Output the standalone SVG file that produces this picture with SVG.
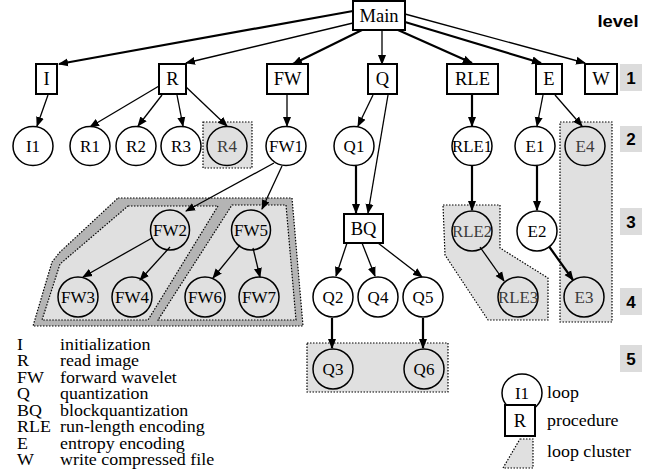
<svg xmlns="http://www.w3.org/2000/svg" width="655" height="475" viewBox="0 0 655 475">
<style>
.bg{fill:#ffffff}
.box{fill:#ffffff;stroke:#000;stroke-width:2}
.loop{fill:#ffffff;stroke:#000;stroke-width:1.5}
.cl{fill:none;stroke:#000;stroke-width:1.5}
.t{font-family:"Liberation Serif","Times New Roman",serif;font-size:18.5px;fill:#000;text-anchor:middle;dominant-baseline:central}
.tc{font-family:"Liberation Serif","Times New Roman",serif;font-size:17px;fill:#000;text-anchor:middle;dominant-baseline:central}
.tg{fill:#3a3a3a}
.lg{font-family:"Liberation Serif","Times New Roman",serif;font-size:16px;fill:#000}
.lvl{font-family:"Liberation Sans",Arial,sans-serif;font-size:17px;font-weight:bold;fill:#000;text-anchor:middle}
.lvbox{fill:#dcdcdc}
.clu{fill:#e0e0e0;stroke:#000;stroke-width:1.2;stroke-dasharray:1.5 1.5}
.band{fill:#b4b4b4;stroke:#000;stroke-width:1.2;stroke-dasharray:1.5 1.5}
.e{stroke:#000;stroke-width:1.3;fill:none;marker-end:url(#ah)}
.E{stroke:#000;stroke-width:2.2;fill:none;marker-end:url(#ah)}
</style>
<defs>
<marker id="ah" markerUnits="userSpaceOnUse" markerWidth="10" markerHeight="10" viewBox="0 0 10 10" refX="9" refY="5" orient="auto">
<path d="M0,1 L10,5 L0,9 z" fill="#000"/>
</marker>
</defs>
<rect class="bg" x="0" y="0" width="655" height="475"/>

<!-- clusters -->
<g id="clusters">
<polygon class="band" points="118,198 292,198 303,326 33,326 52,262 60,252"/>
<polygon class="clu" points="128,206 218,206 148,320 42,320 60,264"/>
<polygon class="clu" points="232,205 286,205 296,320 158,320"/>
<rect class="clu" x="203" y="122" width="49" height="46"/>
<rect class="clu" x="560" y="122" width="52" height="200"/>
<polygon class="clu" points="443,205 500,205 500,248 548,278 548,320 488,320 445,255"/>
<rect class="clu" x="307" y="343" width="141" height="49"/>
</g>

<!-- level labels -->
<g id="levels">
<text class="lvl" x="618" y="27" textLength="41" lengthAdjust="spacingAndGlyphs">level</text>
<rect class="lvbox" x="620" y="64" width="22" height="27"/>
<text class="lvl" x="631" y="84">1</text>
<rect class="lvbox" x="620" y="126" width="22" height="26"/>
<text class="lvl" x="631" y="145">2</text>
<rect class="lvbox" x="620" y="208" width="22" height="27"/>
<text class="lvl" x="631" y="228">3</text>
<rect class="lvbox" x="620" y="288" width="22" height="27"/>
<text class="lvl" x="631" y="308">4</text>
<rect class="lvbox" x="620" y="345" width="22" height="27"/>
<text class="lvl" x="631" y="365">5</text>
</g>

<!-- connectors -->
<g id="connectors">
<line class="E" x1="353" y1="11" x2="59" y2="64"/>
<line class="e" x1="353" y1="23" x2="186" y2="63"/>
<line class="E" x1="362" y1="30" x2="293" y2="64"/>
<line class="e" x1="382" y1="30" x2="382" y2="64"/>
<line class="E" x1="398" y1="30" x2="472" y2="63"/>
<line class="E" x1="405" y1="22" x2="541" y2="63"/>
<line class="e" x1="405" y1="14" x2="585" y2="63"/>

<line class="e" x1="48" y1="95" x2="37" y2="126"/>
<line class="e" x1="159" y1="86" x2="90" y2="127"/>
<line class="e" x1="162" y1="95" x2="138" y2="126"/>
<line class="e" x1="177" y1="95" x2="183" y2="126"/>
<line class="e" x1="185" y1="86" x2="227" y2="126"/>
<line class="e" x1="287" y1="95" x2="287" y2="126"/>
<line class="e" x1="373" y1="95" x2="358" y2="126"/>
<line class="e" x1="388" y1="95" x2="368" y2="213"/>
<line class="E" x1="472" y1="95" x2="472" y2="126"/>
<line class="e" x1="543" y1="95" x2="537" y2="126"/>
<line class="e" x1="555" y1="95" x2="582" y2="126"/>

<line class="e" x1="274" y1="163" x2="186" y2="211"/>
<line class="e" x1="282" y1="166" x2="262" y2="209"/>
<line class="e" x1="152" y1="238" x2="83" y2="277"/>
<line class="e" x1="170" y1="247" x2="140" y2="280"/>
<line class="e" x1="240" y1="245" x2="213" y2="278"/>
<line class="e" x1="253" y1="248" x2="260" y2="277"/>

<line class="E" x1="356" y1="166" x2="356" y2="213"/>
<line class="E" x1="472" y1="166" x2="472" y2="210"/>
<line class="e" x1="480" y1="247" x2="504" y2="281"/>
<line class="E" x1="537" y1="166" x2="537" y2="210"/>
<line class="E" x1="548" y1="245" x2="573" y2="280"/>

<line class="e" x1="347" y1="243" x2="336" y2="276"/>
<line class="e" x1="362" y1="243" x2="375" y2="276"/>
<line class="e" x1="378" y1="243" x2="422" y2="277"/>
<line class="E" x1="332" y1="318" x2="332" y2="348"/>
<line class="E" x1="423" y1="318" x2="423" y2="348"/>
</g>

<!-- procedures -->
<g id="Main"><rect class="box" x="353" y="1" width="52" height="29"/><text class="t" x="379" y="16">Main</text></g>
<g id="I"><rect class="box" x="36" y="64" width="21" height="30"/><text class="t" x="46.5" y="79">I</text></g>
<g id="R"><rect class="box" x="159" y="64" width="27" height="30"/><text class="t" x="172.5" y="79">R</text></g>
<g id="FW"><rect class="box" x="267" y="64" width="41" height="30"/><text class="t" x="287.5" y="79">FW</text></g>
<g id="Q"><rect class="box" x="368" y="64" width="29" height="30"/><text class="t" x="382.5" y="79">Q</text></g>
<g id="RLE"><rect class="box" x="447" y="64" width="51" height="30"/><text class="t" x="472.5" y="79">RLE</text></g>
<g id="E"><rect class="box" x="536" y="64" width="26" height="30"/><text class="t" x="549" y="79">E</text></g>
<g id="W"><rect class="box" x="585" y="64" width="32" height="30"/><text class="t" x="601" y="79">W</text></g>
<g id="BQ"><rect class="box" x="344" y="214" width="39" height="29"/><text class="t" x="363.5" y="228.5">BQ</text></g>

<!-- loops -->
<g id="I1"><ellipse class="loop" cx="33" cy="146" rx="20" ry="19.5"/><text class="tc" x="33" y="146">I1</text></g>
<g id="R1"><ellipse class="loop" cx="90" cy="146" rx="20" ry="19.5"/><text class="tc" x="90" y="146">R1</text></g>
<g id="R2"><ellipse class="loop" cx="136" cy="146" rx="20" ry="19.5"/><text class="tc" x="136" y="146">R2</text></g>
<g id="R3"><ellipse class="loop" cx="181" cy="146" rx="20" ry="19.5"/><text class="tc" x="181" y="146">R3</text></g>
<g id="R4"><ellipse class="cl" cx="227" cy="146" rx="20" ry="19.5"/><text class="tc tg" x="227" y="146">R4</text></g>
<g id="FW1"><ellipse class="loop" cx="286" cy="146" rx="20" ry="19.5"/><text class="tc" x="286" y="146">FW1</text></g>
<g id="Q1"><ellipse class="loop" cx="354" cy="146" rx="20" ry="19.5"/><text class="tc" x="354" y="146">Q1</text></g>
<g id="RLE1"><ellipse class="loop" cx="472" cy="146" rx="20" ry="19.5"/><text class="tc" x="472" y="146" textLength="40" lengthAdjust="spacingAndGlyphs">RLE1</text></g>
<g id="E1"><ellipse class="loop" cx="535" cy="146" rx="20" ry="19.5"/><text class="tc" x="535" y="146">E1</text></g>
<g id="E4"><ellipse class="cl" cx="585" cy="146" rx="20" ry="19.5"/><text class="tc tg" x="585" y="146">E4</text></g>

<g id="FW2"><ellipse class="cl" cx="170" cy="230" rx="19.5" ry="20"/><text class="tc" x="170" y="230">FW2</text></g>
<g id="FW5"><ellipse class="cl" cx="251" cy="230" rx="19.5" ry="20"/><text class="tc" x="251" y="230">FW5</text></g>
<g id="RLE2"><ellipse class="cl" cx="472" cy="231" rx="20" ry="20"/><text class="tc tg" x="472" y="231" textLength="40" lengthAdjust="spacingAndGlyphs">RLE2</text></g>
<g id="E2"><ellipse class="loop" cx="537" cy="231" rx="20" ry="20"/><text class="tc" x="537" y="231">E2</text></g>

<g id="FW3"><ellipse class="cl" cx="78" cy="297" rx="20" ry="20"/><text class="tc" x="78" y="297">FW3</text></g>
<g id="FW4"><ellipse class="cl" cx="132" cy="297" rx="20" ry="20"/><text class="tc" x="132" y="297">FW4</text></g>
<g id="FW6"><ellipse class="cl" cx="205" cy="297" rx="20" ry="20"/><text class="tc" x="205" y="297">FW6</text></g>
<g id="FW7"><ellipse class="cl" cx="259" cy="297" rx="20" ry="20"/><text class="tc" x="259" y="297">FW7</text></g>
<g id="Q2"><ellipse class="loop" cx="333" cy="297" rx="20" ry="20"/><text class="tc" x="333" y="297">Q2</text></g>
<g id="Q4"><ellipse class="loop" cx="378" cy="297" rx="20" ry="20"/><text class="tc" x="378" y="297">Q4</text></g>
<g id="Q5"><ellipse class="loop" cx="423" cy="297" rx="20" ry="20"/><text class="tc" x="423" y="297">Q5</text></g>
<g id="RLE3"><ellipse class="cl" cx="518" cy="297" rx="20" ry="20"/><text class="tc tg" x="518" y="297" textLength="40" lengthAdjust="spacingAndGlyphs">RLE3</text></g>
<g id="E3"><ellipse class="cl" cx="584" cy="297" rx="20" ry="20"/><text class="tc tg" x="584" y="297">E3</text></g>

<g id="Q3"><ellipse class="cl" cx="333" cy="369" rx="20" ry="20"/><text class="tc" x="333" y="369">Q3</text></g>
<g id="Q6"><ellipse class="cl" cx="424" cy="369" rx="20" ry="20"/><text class="tc" x="424" y="369">Q6</text></g>

<!-- legend -->
<g id="legend">
<g transform="scale(1.12,1)">
<text class="lg" x="15.2" y="350">I</text><text class="lg" x="53.6" y="350">initialization</text>
<text class="lg" x="15.2" y="366.5">R</text><text class="lg" x="53.6" y="366.5">read image</text>
<text class="lg" x="15.2" y="383">FW</text><text class="lg" x="53.6" y="383">forward wavelet</text>
<text class="lg" x="15.2" y="399.5">Q</text><text class="lg" x="53.6" y="399.5">quantization</text>
<text class="lg" x="15.2" y="416">BQ</text><text class="lg" x="53.6" y="416">blockquantization</text>
<text class="lg" x="15.2" y="432.5">RLE</text><text class="lg" x="53.6" y="432.5">run-length encoding</text>
<text class="lg" x="15.2" y="449">E</text><text class="lg" x="53.6" y="449">entropy encoding</text>
<text class="lg" x="15.2" y="465.5">W</text><text class="lg" x="53.6" y="465.5">write compressed file</text>
<text class="lg" x="488.4" y="398">loop</text>
<text class="lg" x="488.4" y="426">procedure</text>
<text class="lg" x="488.4" y="457">loop cluster</text>
</g>
<ellipse class="loop" cx="522" cy="393" rx="20" ry="19"/><text class="tc" x="522" y="393">I1</text>
<rect class="box" x="505" y="405" width="30" height="31"/><text class="t" x="520" y="420.5">R</text>
<polygon class="clu" points="520,439 533,439 533,468 503,468"/>
</g>
</svg>
